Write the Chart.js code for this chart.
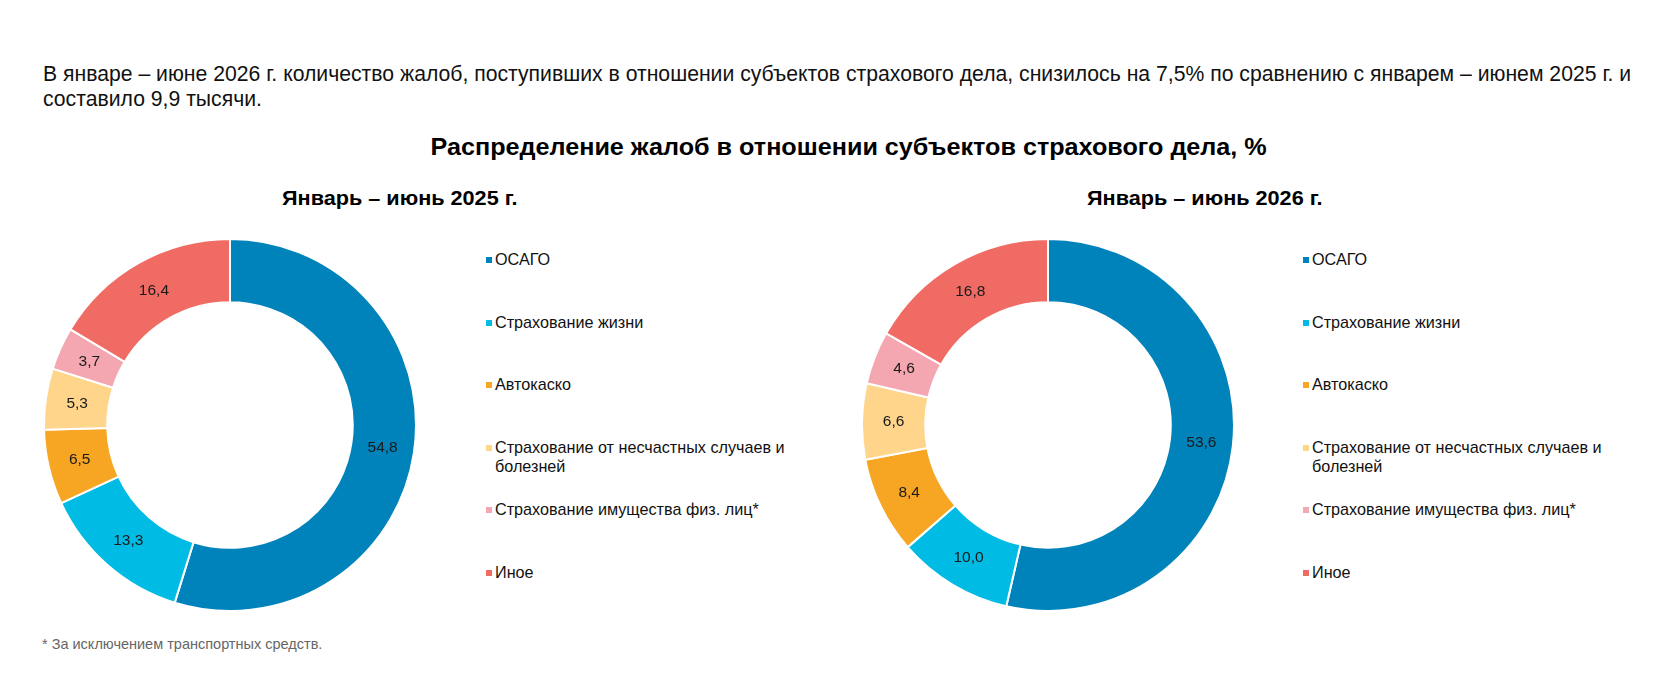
<!DOCTYPE html>
<html lang="ru">
<head>
    <meta charset="UTF-8">
    <title>Распределение жалоб</title>
    <script src="https://cdn.jsdelivr.net/npm/chart.js"></script>
    <style>
        body { margin: 0; background: #fff; font-family: "Liberation Sans", Arial, sans-serif; color: #000; }
        .page { position: relative; width: 1680px; height: 700px; overflow: hidden; }
        .lead { position: absolute; left: 43px; top: 61px; font-size: 21.2px; line-height: 25px; white-space: nowrap; color: #111; }
        .fit { position: absolute; white-space: nowrap; font-weight: bold; transform-origin: center top; }
        .title { top: 133px; font-size: 24px; }
        .sub { top: 187px; font-size: 20px; }
        .box { position: absolute; top: 238px; width: 374px; height: 374px; }
        .legend { position: absolute; top: 0; left: 0; }
        .legend div { position: absolute; width: 330px; font-size: 16.2px; line-height: 19px; padding-left: 9px; color: #111; }
        .legend i { position: absolute; left: 0; top: 7px; width: 6px; height: 6px; }
        .note { position: absolute; left: 42px; top: 636px; font-size: 14.5px; color: #666; }
    </style>
</head>
<body>
<div class="page">
    <div class="lead">В январе – июне 2026 г. количество жалоб, поступивших в отношении субъектов страхового дела, снизилось на 7,5% по сравнению с январем – июнем 2025 г. и<br>составило 9,9 тысячи.</div>
    <div class="fit title" data-cx="848" data-w="836">Распределение жалоб в отношении субъектов страхового дела, %</div>
    <div class="fit sub" data-cx="400" data-w="236">Январь – июнь 2025 г.</div>
    <div class="fit sub" data-cx="1205" data-w="236">Январь – июнь 2026 г.</div>

    <div class="box" style="left:43px"><canvas id="chart2025"></canvas></div>
    <div class="box" style="left:861px"><canvas id="chart2026"></canvas></div>
    <div class="legend" id="legend2025"></div>
    <div class="legend" id="legend2026"></div>

    <div class="note">* За исключением транспортных средств.</div>
</div>

<script>
    // categories and values (percent)
    const categories = [
        'ОСАГО',
        'Страхование жизни',
        'Автокаско',
        'Страхование от несчастных случаев и болезней',
        'Страхование имущества физ. лиц*',
        'Иное'
    ];
    const values2025 = [54.8, 13.3, 6.5, 5.3, 3.7, 16.4];
    const values2026 = [53.6, 10.0, 8.4, 6.6, 4.6, 16.8];
    const colors = ['#0082ba', '#00bbe3', '#f6a623', '#ffd58c', '#f4a7b0', '#ef6b63'];

    // narrow bold headings: squeeze to the width of the original
    document.querySelectorAll('.fit').forEach(el => {
        const w = el.offsetWidth;
        const k = el.dataset.w / w;
        el.style.left = (el.dataset.cx - w / 2) + 'px';
        el.style.transform = 'scaleX(' + k + ')';
    });

    // values written inside the ring
    const ringLabels = {
        id: 'ringLabels',
        afterDatasetsDraw(chart) {
            const ctx = chart.ctx;
            const data = chart.data.datasets[0].data;
            ctx.save();
            ctx.font = '15.5px "Liberation Sans", Arial, sans-serif';
            ctx.fillStyle = '#1a1a1a';
            ctx.textAlign = 'center';
            ctx.textBaseline = 'middle';
            chart.getDatasetMeta(0).data.forEach((arc, i) => {
                const p = arc.getCenterPoint();
                ctx.fillText(data[i].toFixed(1).replace('.', ','), p.x, p.y);
            });
            ctx.restore();
        }
    };

    function makeChart(id, values) {
        return new Chart(document.getElementById(id), {
            type: 'doughnut',
            data: {
                labels: categories,
                datasets: [{
                    data: values,
                    backgroundColor: colors,
                    borderColor: '#fff',
                    borderWidth: 2
                }]
            },
            options: {
                responsive: true,
                maintainAspectRatio: false,
                animation: false,
                cutout: '66%',
                layout: { padding: 0 },
                plugins: { legend: { display: false }, tooltip: { enabled: false } }
            },
            plugins: [ringLabels]
        });
    }

    function makeLegend(id, left) {
        const el = document.getElementById(id);
        categories.forEach((name, i) => {
            const item = document.createElement('div');
            item.style.left = left + 'px';
            item.style.top = (250 + i * 62.5) + 'px';
            item.innerHTML = '<i style="background:' + colors[i] + '"></i>' + name;
            el.appendChild(item);
        });
    }

    makeChart('chart2025', values2025);
    makeChart('chart2026', values2026);
    makeLegend('legend2025', 486);
    makeLegend('legend2026', 1303);
</script>
</body>
</html>
